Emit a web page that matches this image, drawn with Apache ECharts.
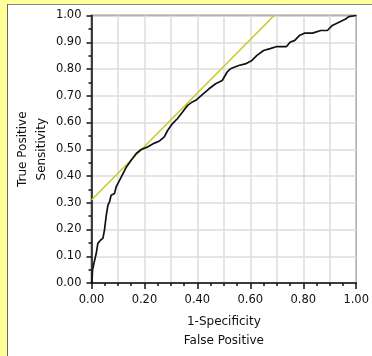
<!DOCTYPE html>
<html>
<head>
<meta charset="utf-8">
<script src="https://cdn.jsdelivr.net/npm/echarts@6/dist/echarts.min.js"></script>
<style>
  html, body { margin: 0; padding: 0; background: #ffff99; }
  #panel {
    position: absolute; left: 7px; top: 4px; right: 0; bottom: 0;
    background: #fff; border-left: 1px solid #666; border-top: 1px solid #888;
  }
  #chart { position: absolute; left: 0; top: 0; width: 372px; height: 356px; }
</style>
</head>
<body>
<div id="panel"></div>
<div id="chart"></div>
<script>
// ROC curve (1-specificity, sensitivity)
var fpr = [0, 0.002, 0.004, 0.012, 0.018, 0.024, 0.034, 0.043, 0.049, 0.055, 0.062, 0.068,
  0.074, 0.087, 0.093, 0.106, 0.113, 0.132, 0.15, 0.169, 0.188, 0.213, 0.238, 0.257, 0.275,
  0.288, 0.306, 0.325, 0.344, 0.363, 0.381, 0.394, 0.423, 0.444, 0.469, 0.494, 0.512, 0.525,
  0.556, 0.581, 0.606, 0.625, 0.65, 0.675, 0.7, 0.737, 0.75, 0.768, 0.785, 0.804, 0.835,
  0.866, 0.891, 0.91, 0.935, 0.96, 0.972, 1.0];
var tpr = [0, 0.011, 0.049, 0.086, 0.111, 0.148, 0.16, 0.167, 0.198, 0.247, 0.291, 0.303,
  0.328, 0.335, 0.359, 0.384, 0.39, 0.434, 0.459, 0.484, 0.499, 0.509, 0.523, 0.531, 0.546,
  0.571, 0.596, 0.615, 0.639, 0.664, 0.677, 0.683, 0.708, 0.726, 0.745, 0.757, 0.788, 0.801,
  0.813, 0.819, 0.832, 0.851, 0.869, 0.876, 0.884, 0.884, 0.9, 0.907, 0.925, 0.934, 0.934,
  0.944, 0.944, 0.963, 0.975, 0.987, 0.996, 1.0];

// tangent line (yellow)
var tangentX = [0, 0.69];
var tangentY = [0.31, 1.0];

var xTickLabels = ['0.00', '0.20', '0.40', '0.60', '0.80', '1.00'];
var yTickLabels = ['0.00', '0.10', '0.20', '0.30', '0.40', '0.50', '0.60', '0.70', '0.80', '0.90', '1.00'];

function pairs(xs, ys) {
  return xs.map(function (x, i) { return [x, ys[i]]; });
}

var font = 'DejaVu Sans';
var chart = echarts.init(document.getElementById('chart'));

chart.setOption({
  backgroundColor: 'transparent',
  animation: false,
  grid: {
    left: 91.5, right: 12.5, top: 15.5, bottom: 73,
    show: true, borderColor: '#333', borderWidth: 1.5, backgroundColor: '#fff'
  },
  xAxis: [
    {
      type: 'value', min: 0, max: 1, interval: 0.1,
      name: '1-Specificity\nFalse Positive',
      nameLocation: 'middle', nameGap: 29, nameMoveOverlap: false,
      nameTextStyle: { fontFamily: font, fontSize: 12, color: '#111', lineHeight: 19, verticalAlign: 'top' },
      axisLine: { show: true, lineStyle: { color: '#111', width: 1.5 } },
      axisTick: { show: true, length: 3, lineStyle: { color: '#111', width: 1.5 } },
      minorTick: { show: true, splitNumber: 2, length: 3, lineStyle: { color: '#111', width: 1.5 } },
      splitLine: { show: true, lineStyle: { color: '#dcdcdc', width: 1.5 } },
      axisLabel: {
        margin: 11, fontFamily: font, fontSize: 11.5, color: '#111',
        formatter: function (v) {
          var s = v.toFixed(2);
          return xTickLabels.indexOf(s) >= 0 ? s : '';
        }
      }
    },
    {
      // longer ticks at the labelled positions
      type: 'value', min: 0, max: 1, interval: 0.2, position: 'bottom',
      axisLine: { show: false },
      axisTick: { show: true, length: 6, lineStyle: { color: '#111', width: 1.5 } },
      axisLabel: { show: false },
      splitLine: { show: false }
    }
  ],
  yAxis: {
    type: 'value', min: 0, max: 1, interval: 0.1,
    name: 'True Positive\nSensitivity',
    nameLocation: 'middle', nameGap: 40, nameRotate: 90, nameMoveOverlap: false,
    nameTextStyle: { fontFamily: font, fontSize: 12, color: '#111', lineHeight: 19 },
    axisLine: { show: true, lineStyle: { color: '#111', width: 1.5 } },
    axisTick: { show: true, length: 5, lineStyle: { color: '#111', width: 1.5 } },
    minorTick: { show: true, splitNumber: 2, length: 3, lineStyle: { color: '#111', width: 1.5 } },
    splitLine: { show: true, lineStyle: { color: '#dcdcdc', width: 1.5 } },
    axisLabel: {
      margin: 10, fontFamily: font, fontSize: 11.5, color: '#111',
      formatter: function (v) { return yTickLabels[Math.round(v * 10)]; }
    }
  },
  series: [
    {
      type: 'line', data: pairs(tangentX, tangentY), symbol: 'none',
      lineStyle: { color: '#c8c828', width: 1.5 }, z: 2
    },
    {
      type: 'line', data: pairs(fpr, tpr), symbol: 'none',
      lineStyle: { color: '#111', width: 1.7 }, z: 3
    }
  ]
});
</script>
</body>
</html>
